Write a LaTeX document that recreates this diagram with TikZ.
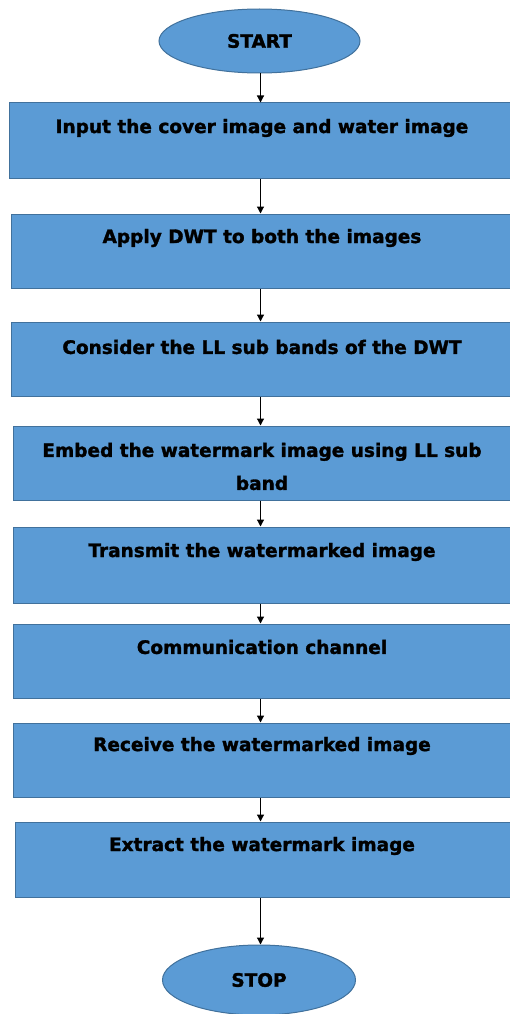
\documentclass[tikz,border=0pt]{standalone}
\usepackage{fontspec}
\setmainfont{DejaVu Sans}[BoldFeatures={FakeBold=1.6}]
\usetikzlibrary{arrows.meta,shapes.geometric}
\definecolor{fillblue}{HTML}{5B9BD5}
\definecolor{edgeblue}{HTML}{41719C}
\tikzset{
  flowbox/.style={draw=edgeblue, line width=1pt, fill=fillblue, rectangle, inner sep=0pt},
  term/.style={draw=edgeblue, line width=1pt, fill=fillblue, ellipse, inner sep=0pt,
     font=\fontsize{18.5}{22}\selectfont\bfseries},
  txt/.style={font=\fontsize{18.5}{33}\selectfont\bfseries, align=center, anchor=center, inner sep=0pt},
  flow/.style={-{Triangle[length=7pt,width=7pt]}, line width=1.2pt, black}
}
\begin{document}
\begin{tikzpicture}[x=1pt,y=-1pt]
\useasboundingbox (0,0) rectangle (509,1014);
\coordinate (ax) at (260.5,0);
\node[term, minimum width=201pt, minimum height=64pt] (start) at (259.5,41) {START};
\node[flowbox, minimum width=511pt, minimum height=75pt] (b1) at (264.5,140.5) {};
\node[txt] at (262,128) {Input the cover image and water image};
\node[flowbox, minimum width=509pt, minimum height=74pt] (b2) at (265.5,251) {};
\node[txt] at (262,238) {Apply DWT to both the images};
\node[flowbox, minimum width=509pt, minimum height=74pt] (b3) at (265.5,359) {};
\node[txt] at (262,347) {Consider the LL sub bands of the DWT};
\node[flowbox, minimum width=507pt, minimum height=74pt] (b4) at (266.5,463) {};
\node[txt] at (262,466.5) {Embed the watermark image using LL sub\\band};
\node[flowbox, minimum width=507pt, minimum height=76pt] (b5) at (266.5,565) {};
\node[txt] at (262,552) {Transmit the watermarked image};
\node[flowbox, minimum width=507pt, minimum height=74pt] (b6) at (266.5,661) {};
\node[txt] at (262,647) {Communication channel};
\node[flowbox, minimum width=507pt, minimum height=74pt] (b7) at (266.5,760) {};
\node[txt] at (262,746) {Receive the watermarked image};
\node[flowbox, minimum width=505pt, minimum height=75pt] (b8) at (267.5,859.5) {};
\node[txt] at (262,846) {Extract the watermark image};
\node[term, minimum width=193pt, minimum height=70pt] (stop) at (259,980) {STOP};
\draw[flow] (start.south -| ax) -- (b1.north -| ax);
\draw[flow] (b1.south -| ax) -- (b2.north -| ax);
\draw[flow] (b2.south -| ax) -- (b3.north -| ax);
\draw[flow] (b3.south -| ax) -- (b4.north -| ax);
\draw[flow] (b4.south -| ax) -- (b5.north -| ax);
\draw[flow] (b5.south -| ax) -- (b6.north -| ax);
\draw[flow] (b6.south -| ax) -- (b7.north -| ax);
\draw[flow] (b7.south -| ax) -- (b8.north -| ax);
\draw[flow] (b8.south -| ax) -- (stop.north -| ax);
\end{tikzpicture}
\end{document}
